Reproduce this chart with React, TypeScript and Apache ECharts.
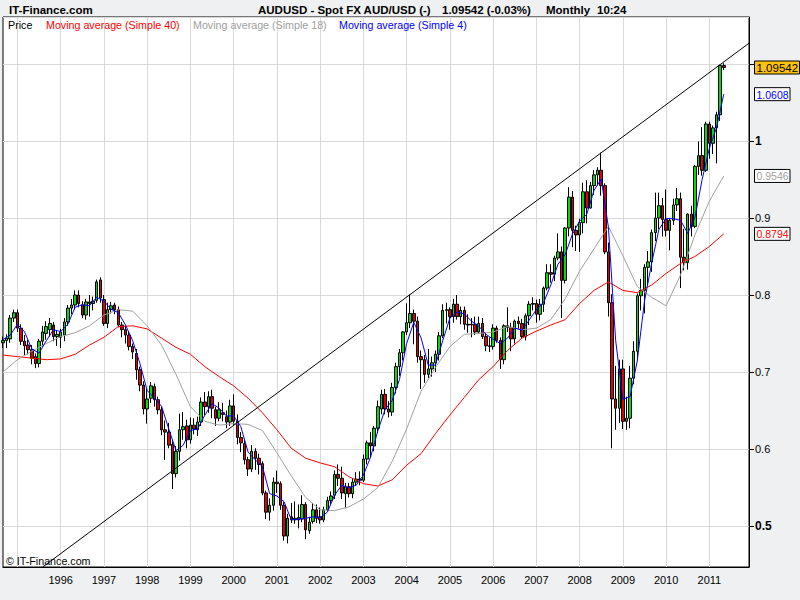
import React, { useEffect, useRef } from "react";
import * as echarts from "echarts";

const FONT = "'Liberation Sans', Arial, Helvetica, sans-serif";

// Monthly categories: Sep 1994 .. Dec 2011
const months: string[] = [];
for (let y = 1994, m = 9; y < 2012; ) {
  months.push(`${y}-${String(m).padStart(2, "0")}`);
  m++;
  if (m > 12) { m = 1; y++; }
}

// AUD/USD monthly candles from Sep 1994: [open, close, low, high]
const ohlc: [number, number, number, number][] = [
  [0.738, 0.741, 0.731, 0.746], [0.741, 0.744, 0.731, 0.749], [0.743, 0.770, 0.738, 0.774], [0.770, 0.777, 0.765, 0.781],
  // 1995
  [0.777, 0.757, 0.752, 0.781], [0.757, 0.740, 0.735, 0.762], [0.740, 0.734, 0.722, 0.748], [0.735, 0.729, 0.723, 0.742],
  [0.729, 0.718, 0.710, 0.735], [0.720, 0.711, 0.705, 0.724], [0.711, 0.740, 0.706, 0.743], [0.740, 0.752, 0.733, 0.760],
  [0.750, 0.759, 0.742, 0.766], [0.755, 0.763, 0.746, 0.770], [0.761, 0.746, 0.740, 0.765], [0.746, 0.749, 0.734, 0.754],
  // 1996
  [0.745, 0.752, 0.731, 0.756], [0.748, 0.765, 0.740, 0.770], [0.765, 0.783, 0.760, 0.787], [0.783, 0.787, 0.775, 0.795],
  [0.787, 0.800, 0.781, 0.806], [0.800, 0.789, 0.784, 0.806], [0.787, 0.774, 0.770, 0.792], [0.774, 0.791, 0.768, 0.795],
  [0.791, 0.789, 0.772, 0.800], [0.789, 0.792, 0.780, 0.798], [0.793, 0.817, 0.790, 0.820], [0.8195, 0.796, 0.790, 0.823],
  // 1997
  [0.794, 0.763, 0.760, 0.800], [0.763, 0.781, 0.757, 0.790], [0.781, 0.786, 0.776, 0.791], [0.787, 0.781, 0.775, 0.790],
  [0.781, 0.761, 0.758, 0.785], [0.761, 0.755, 0.745, 0.765], [0.755, 0.748, 0.737, 0.760], [0.748, 0.733, 0.728, 0.752],
  [0.733, 0.726, 0.717, 0.737], [0.724, 0.703, 0.690, 0.730], [0.703, 0.683, 0.675, 0.707], [0.683, 0.652, 0.645, 0.688],
  // 1998
  [0.652, 0.665, 0.633, 0.678], [0.666, 0.682, 0.660, 0.687], [0.681, 0.664, 0.655, 0.685], [0.664, 0.651, 0.645, 0.668],
  [0.651, 0.625, 0.618, 0.655], [0.625, 0.622, 0.586, 0.637], [0.622, 0.605, 0.601, 0.634], [0.606, 0.568, 0.548, 0.612],
  [0.568, 0.597, 0.563, 0.604], [0.597, 0.625, 0.585, 0.646], [0.625, 0.629, 0.612, 0.648], [0.630, 0.612, 0.601, 0.638],
  // 1999
  [0.612, 0.631, 0.607, 0.641], [0.631, 0.626, 0.619, 0.640], [0.625, 0.635, 0.617, 0.642], [0.635, 0.661, 0.630, 0.667],
  [0.661, 0.655, 0.644, 0.674], [0.655, 0.668, 0.647, 0.675], [0.668, 0.653, 0.640, 0.677], [0.651, 0.640, 0.630, 0.655],
  [0.640, 0.651, 0.636, 0.661], [0.647, 0.645, 0.636, 0.660], [0.642, 0.635, 0.627, 0.650], [0.635, 0.656, 0.630, 0.664],
  // 2000
  [0.656, 0.636, 0.630, 0.671], [0.636, 0.615, 0.606, 0.645], [0.615, 0.608, 0.596, 0.622], [0.607, 0.586, 0.580, 0.612],
  [0.586, 0.574, 0.565, 0.590], [0.574, 0.597, 0.570, 0.605], [0.597, 0.588, 0.573, 0.601], [0.588, 0.580, 0.567, 0.594],
  [0.581, 0.543, 0.540, 0.584], [0.543, 0.518, 0.509, 0.546], [0.518, 0.527, 0.507, 0.536], [0.527, 0.557, 0.520, 0.563],
  // 2001
  [0.557, 0.555, 0.543, 0.572], [0.555, 0.527, 0.521, 0.558], [0.527, 0.487, 0.481, 0.531], [0.487, 0.510, 0.4775, 0.516],
  [0.512, 0.508, 0.504, 0.530], [0.508, 0.510, 0.503, 0.532], [0.511, 0.508, 0.497, 0.528], [0.509, 0.528, 0.505, 0.540],
  [0.528, 0.495, 0.483, 0.531], [0.494, 0.505, 0.490, 0.512], [0.506, 0.521, 0.503, 0.530], [0.521, 0.510, 0.504, 0.528],
  // 2002
  [0.512, 0.508, 0.503, 0.524], [0.508, 0.521, 0.505, 0.525], [0.521, 0.533, 0.519, 0.538], [0.533, 0.539, 0.527, 0.545],
  [0.540, 0.567, 0.535, 0.572], [0.567, 0.562, 0.552, 0.580], [0.562, 0.543, 0.535, 0.577], [0.542, 0.551, 0.523, 0.556],
  [0.551, 0.542, 0.537, 0.556], [0.542, 0.557, 0.536, 0.562], [0.557, 0.561, 0.552, 0.570], [0.561, 0.5595, 0.553, 0.571],
  // 2003
  [0.5595, 0.587, 0.557, 0.593], [0.587, 0.608, 0.580, 0.611], [0.608, 0.604, 0.589, 0.622], [0.604, 0.627, 0.597, 0.630],
  [0.627, 0.655, 0.621, 0.663], [0.652, 0.671, 0.645, 0.677], [0.671, 0.652, 0.645, 0.678], [0.652, 0.648, 0.641, 0.662],
  [0.648, 0.680, 0.643, 0.686], [0.680, 0.707, 0.672, 0.712], [0.707, 0.725, 0.695, 0.730], [0.725, 0.752, 0.715, 0.753],
  // 2004
  [0.752, 0.764, 0.748, 0.789], [0.764, 0.776, 0.757, 0.8008], [0.776, 0.766, 0.736, 0.781], [0.766, 0.720, 0.712, 0.772],
  [0.720, 0.716, 0.678, 0.728], [0.716, 0.697, 0.686, 0.722], [0.697, 0.704, 0.692, 0.730], [0.704, 0.712, 0.694, 0.720],
  [0.712, 0.723, 0.700, 0.728], [0.723, 0.747, 0.715, 0.752], [0.747, 0.780, 0.744, 0.788], [0.780, 0.781, 0.763, 0.790],
  // 2005
  [0.781, 0.772, 0.755, 0.784], [0.772, 0.788, 0.764, 0.795], [0.788, 0.772, 0.768, 0.800], [0.772, 0.780, 0.762, 0.785],
  [0.780, 0.762, 0.755, 0.785], [0.762, 0.761, 0.751, 0.775], [0.761, 0.762, 0.745, 0.770], [0.762, 0.752, 0.748, 0.772],
  [0.752, 0.763, 0.750, 0.772], [0.763, 0.746, 0.743, 0.770], [0.746, 0.734, 0.727, 0.751], [0.734, 0.733, 0.726, 0.745],
  // 2006
  [0.733, 0.757, 0.729, 0.762], [0.757, 0.741, 0.738, 0.760], [0.741, 0.716, 0.704, 0.745], [0.716, 0.760, 0.710, 0.762],
  [0.760, 0.758, 0.752, 0.784], [0.758, 0.743, 0.727, 0.764], [0.743, 0.766, 0.737, 0.768], [0.766, 0.763, 0.755, 0.772],
  [0.763, 0.746, 0.743, 0.769], [0.746, 0.773, 0.741, 0.776], [0.773, 0.788, 0.761, 0.792], [0.788, 0.789, 0.780, 0.797],
  // 2007
  [0.789, 0.775, 0.764, 0.794], [0.775, 0.788, 0.767, 0.795], [0.788, 0.809, 0.778, 0.811], [0.809, 0.829, 0.806, 0.840],
  [0.829, 0.827, 0.816, 0.840], [0.827, 0.848, 0.818, 0.851], [0.848, 0.856, 0.845, 0.880], [0.856, 0.819, 0.770, 0.863],
  [0.819, 0.887, 0.815, 0.888], [0.887, 0.927, 0.876, 0.940], [0.927, 0.884, 0.862, 0.935], [0.884, 0.878, 0.857, 0.890],
  // 2008
  [0.878, 0.894, 0.856, 0.899], [0.894, 0.934, 0.880, 0.946], [0.934, 0.913, 0.893, 0.949], [0.913, 0.942, 0.912, 0.947],
  [0.942, 0.956, 0.930, 0.962], [0.956, 0.962, 0.942, 0.966], [0.962, 0.942, 0.929, 0.9849], [0.942, 0.856, 0.853, 0.945],
  [0.856, 0.790, 0.772, 0.868], [0.790, 0.665, 0.601, 0.801], [0.665, 0.653, 0.625, 0.708], [0.653, 0.704, 0.634, 0.716],
  // 2009
  [0.704, 0.636, 0.626, 0.716], [0.636, 0.640, 0.625, 0.668], [0.640, 0.692, 0.627, 0.708], [0.692, 0.727, 0.684, 0.740],
  [0.727, 0.799, 0.715, 0.802], [0.799, 0.806, 0.780, 0.821], [0.806, 0.836, 0.776, 0.840], [0.836, 0.843, 0.813, 0.857],
  [0.843, 0.881, 0.830, 0.885], [0.881, 0.900, 0.870, 0.933], [0.900, 0.916, 0.885, 0.933], [0.916, 0.898, 0.876, 0.926],
  // 2010
  [0.898, 0.884, 0.876, 0.937], [0.884, 0.897, 0.858, 0.899], [0.897, 0.917, 0.891, 0.925], [0.917, 0.925, 0.909, 0.939],
  [0.925, 0.849, 0.809, 0.933], [0.849, 0.842, 0.832, 0.886], [0.842, 0.905, 0.833, 0.906], [0.905, 0.889, 0.876, 0.916],
  [0.889, 0.967, 0.887, 0.969], [0.967, 0.981, 0.956, 0.9995], [0.981, 0.962, 0.955, 1.018], [0.962, 1.022, 0.960, 1.025],
  // 2011
  [1.022, 0.997, 0.977, 1.025], [0.997, 1.017, 0.983, 1.020], [1.017, 1.034, 0.971, 1.038], [1.034, 1.098, 1.026, 1.099],
  [1.098, 1.09542, 1.092, 1.101],
];

// Moving averages, one value every `step` months from Sep 1994
const ma4Step = 2;
const ma4: number[] = [
  0.742, 0.748, 0.762, 0.752, 0.730, 0.7245, 0.7405, 0.755, 0.7525, 0.762,
  0.784, 0.7875, 0.786, 0.797, 0.792, 0.7815, 0.777, 0.761, 0.7405, 0.711,
  0.676, 0.666, 0.6555, 0.626, 0.598, 0.605, 0.624, 0.626, 0.644, 0.659,
  0.653, 0.643, 0.643, 0.629, 0.596, 0.586, 0.577, 0.542, 0.539, 0.5315,
  0.508, 0.509, 0.510, 0.512, 0.511, 0.518, 0.540, 0.553, 0.5495, 0.553,
  0.566, 0.5896, 0.6235, 0.651, 0.663, 0.690, 0.737, 0.7645, 0.7445, 0.709,
  0.709, 0.7405, 0.770, 0.778, 0.7755, 0.766, 0.7595, 0.749, 0.7425, 0.737,
  0.744, 0.757, 0.7545, 0.7675, 0.781, 0.790, 0.813, 0.840, 0.8525, 0.879,
  0.896, 0.905, 0.936, 0.9505, 0.8875, 0.741, 0.6645, 0.668, 0.7145, 0.792,
  0.8415, 0.885, 0.8995, 0.899, 0.897, 0.880, 0.9008, 0.950, 0.9905, 1.0175,
  1.0608,
];
const ma18Step = 4;
const ma18: number[] = [
  0.700, 0.716, 0.727, 0.737, 0.746, 0.751, 0.760, 0.774, 0.781, 0.779,
  0.760, 0.735, 0.697, 0.655, 0.636, 0.631, 0.633, 0.632, 0.624, 0.595,
  0.565, 0.537, 0.521, 0.520, 0.525, 0.535, 0.550, 0.584, 0.626, 0.675,
  0.706, 0.733, 0.749, 0.750, 0.752, 0.759, 0.755, 0.757, 0.768, 0.795,
  0.831, 0.860, 0.889, 0.851, 0.811, 0.797, 0.786, 0.826, 0.878, 0.922,
  0.9546,
];
const ma40Step = 4;
const ma40: number[] = [
  0.722, 0.720, 0.718, 0.716, 0.717, 0.723, 0.735, 0.745, 0.759, 0.760,
  0.756, 0.744, 0.732, 0.723, 0.707, 0.694, 0.682, 0.666, 0.647, 0.625,
  0.601, 0.588, 0.582, 0.577, 0.564, 0.555, 0.552, 0.560, 0.579, 0.594,
  0.620, 0.644, 0.667, 0.690, 0.707, 0.728, 0.744, 0.753, 0.761, 0.768,
  0.789, 0.806, 0.817, 0.806, 0.803, 0.813, 0.828, 0.841, 0.850, 0.863,
  0.8794,
];

// Long-term trend line (month, price) at both ends
const trendLine: [string, number][] = [["1995-08", 0.4468], ["2011-12", 1.127]];

const yMin = 0.4468;
const yMax = 1.161;
const firstLabelledYear = 1996;

const lastValues = [
  { value: 1.09542, text: "1.09542", color: "#000000", fill: "#ffc20e", fontSize: 11.5, width: 45 },
  { value: 1.0608, text: "1.0608", color: "#0000ff", fill: "#ffffff", fontSize: 10.5, width: 35.5 },
  { value: 0.9546, text: "0.9546", color: "#a0a0a0", fill: "#ffffff", fontSize: 10.5, width: 35.5 },
  { value: 0.8794, text: "0.8794", color: "#ff0000", fill: "#ffffff", fontSize: 10.5, width: 35.5 },
];

const legendItems = [
  { text: "Price", color: "#000000", x: 8 },
  { text: "Moving average (Simple 40)", color: "#ff0000", x: 46 },
  { text: "Moving average (Simple 18)", color: "#a0a0a0", x: 193 },
  { text: "Moving average (Simple 4)", color: "#0000ff", x: 339 },
];

const titleParts = [
  { text: "IT-Finance.com", x: 9 },
  { text: "AUDUSD - Spot FX AUD/USD (-)", x: 258 },
  { text: "1.09542 (-0.03%)", x: 442 },
  { text: "Monthly", x: 546 },
  { text: "10:24", x: 597 },
];

function sampled(values: number[], step: number): (number | null)[] {
  return months.map((_, i) => (i % step === 0 && i / step < values.length ? values[i / step] : null));
}

function fmtTick(v: number): string {
  return String(Number(v.toFixed(2)));
}

export default function App() {
  const ref = useRef<HTMLDivElement>(null);

  useEffect(() => {
    if (!ref.current) return;
    const chart = echarts.init(ref.current, null, { renderer: "svg", width: 800, height: 600 });

    const gridColor = "#d9d9d9";
    const lineSeries = (name: string, data: (number | null)[], color: string) => ({
      name,
      type: "line",
      data,
      connectNulls: true,
      symbol: "none",
      showSymbol: false,
      silent: true,
      lineStyle: { color, width: 1 },
      z: 3,
    });

    chart.setOption({
      animation: false,
      backgroundColor: "#eff0f2",
      grid: {
        left: 3,
        right: 51,
        top: 17,
        bottom: 33,
        show: true,
        backgroundColor: "#ffffff",
        borderColor: "#000000",
        borderWidth: 1,
      },
      xAxis: {
        type: "category",
        data: months,
        boundaryGap: false,
        axisLine: { show: true, lineStyle: { color: "#000000", width: 1 } },
        axisTick: { show: false },
        axisLabel: {
          interval: (_i: number, v: string) => v.endsWith("-01") && Number(v.slice(0, 4)) >= firstLabelledYear,
          formatter: (v: string) => v.slice(0, 4),
          color: "#000000",
          fontSize: 11,
          fontFamily: FONT,
          margin: 7,
        },
        splitLine: {
          show: true,
          interval: (_i: number, v: string) => v.endsWith("-01"),
          lineStyle: { color: gridColor, width: 1 },
        },
      },
      yAxis: {
        type: "value",
        position: "right",
        min: yMin,
        max: yMax,
        splitNumber: 7,
        minInterval: 0.1,
        maxInterval: 0.1,
        scale: true,
        axisLine: { show: true, lineStyle: { color: "#000000", width: 1 } },
        axisTick: { show: true, inside: false, length: 5, lineStyle: { color: "#000000" } },
        axisLabel: {
          showMinLabel: false,
          showMaxLabel: false,
          margin: 6,
          color: "#000000",
          fontFamily: FONT,
          fontSize: 11,
          formatter: (v: number) => {
            if (v > 1.05) return "";
            const s = fmtTick(v);
            return Math.abs(v - 1) < 1e-6 || Math.abs(v - 0.5) < 1e-6 ? `{b|${s}}` : `{n|${s}}`;
          },
          rich: {
            b: { fontWeight: "bold", fontSize: 12, fontFamily: FONT, color: "#000000" },
            n: { fontSize: 11, fontFamily: FONT, color: "#000000" },
          },
        },
        splitLine: { show: true, lineStyle: { color: gridColor, width: 1 } },
      },
      series: [
        {
          name: "Price",
          type: "candlestick",
          data: ohlc,
          barWidth: 3,
          silent: true,
          itemStyle: {
            color: "#00dd00",
            color0: "#e00000",
            borderColor: "#000000",
            borderColor0: "#000000",
            borderWidth: 1,
          },
          markLine: {
            silent: true,
            symbol: ["none", "none"],
            label: { show: false },
            lineStyle: { color: "#000000", width: 1, type: "solid" },
            data: [[{ coord: trendLine[0] }, { coord: trendLine[1] }]],
          },
          z: 2,
        },
        lineSeries("Moving average (Simple 40)", sampled(ma40, ma40Step), "#ff0000"),
        lineSeries("Moving average (Simple 18)", sampled(ma18, ma18Step), "#a0a0a0"),
        lineSeries("Moving average (Simple 4)", sampled(ma4, ma4Step), "#0000ff"),
      ],
    });

    const graphics: any[] = [];
    titleParts.forEach((t) =>
      graphics.push({
        type: "text",
        x: t.x,
        y: 10,
        z: 100,
        style: { text: t.text, fill: "#000000", font: `bold 11.5px ${FONT}`, verticalAlign: "middle" },
      })
    );
    legendItems.forEach((l) =>
      graphics.push({
        type: "text",
        x: l.x,
        y: 25,
        z: 100,
        style: { text: l.text, fill: l.color, font: `10.7px ${FONT}`, verticalAlign: "middle" },
      })
    );
    graphics.push({
      type: "text",
      x: 6,
      y: 561,
      z: 100,
      style: { text: "\u00A9 IT-Finance.com", fill: "#000000", font: `10.7px ${FONT}`, verticalAlign: "middle" },
    });
    lastValues.forEach((lv) => {
      const y = chart.convertToPixel({ yAxisIndex: 0 }, lv.value) as number;
      graphics.push({
        type: "rect",
        shape: { x: 754.5, y: y - 6.5, width: lv.width, height: 13 },
        z: 100,
        style: { fill: lv.fill, stroke: "#000000", lineWidth: 1 },
      });
      graphics.push({
        type: "text",
        x: 756.5,
        y: y + 0.5,
        z: 101,
        style: { text: lv.text, fill: lv.color, font: `${lv.fontSize}px ${FONT}`, verticalAlign: "middle" },
      });
    });
    chart.setOption({ graphic: graphics });

    return () => chart.dispose();
  }, []);

  return <div ref={ref} style={{ position: "fixed", left: 0, top: 0, width: 800, height: 600 }} />;
}
